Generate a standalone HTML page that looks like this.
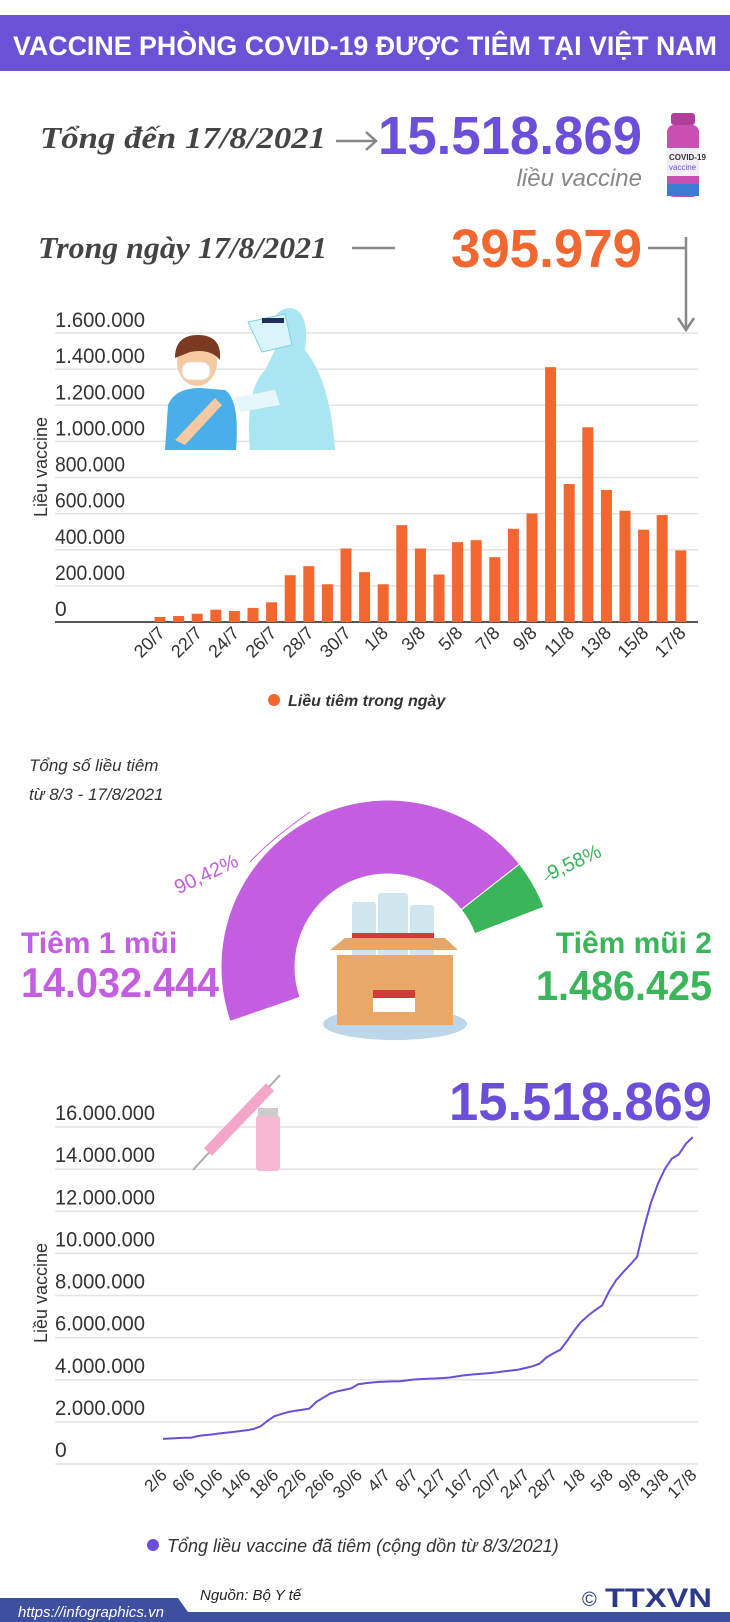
<!DOCTYPE html>
<html><head><meta charset="utf-8"><style>
html,body{margin:0;padding:0;background:#fff;}
svg{display:block;font-family:"Liberation Sans","DejaVu Sans",sans-serif;}
</style></head><body>
<svg id="root" width="730" height="1622" viewBox="0 0 730 1622" xmlns="http://www.w3.org/2000/svg">
<rect x="0" y="15" width="730" height="56" fill="#6a52d6"/>
<text x="13" y="55" font-size="27" font-weight="bold" fill="#fff" textLength="704" lengthAdjust="spacingAndGlyphs">VACCINE PHÒNG COVID-19 ĐƯỢC TIÊM TẠI VIỆT NAM</text>

<text x="40" y="148" font-family="Liberation Serif, serif" font-style="italic" font-weight="bold" font-size="31" fill="#444" textLength="286" lengthAdjust="spacingAndGlyphs">Tổng đến 17/8/2021</text>
<g stroke="#888" stroke-width="2.5" fill="none"><line x1="336" y1="141" x2="376" y2="141"/><polyline points="366,132 376,141 366,150"/></g>
<text x="378" y="154" font-size="54" font-weight="bold" fill="#6b4fd8" textLength="264" lengthAdjust="spacingAndGlyphs">15.518.869</text>
<text x="642" y="186" text-anchor="end" font-style="italic" font-size="24" fill="#888">liều vaccine</text>
<g>
<rect x="671" y="113" width="24" height="12" rx="3" fill="#b03d9a"/>
<rect x="667" y="125" width="32" height="72" rx="7" fill="#c94fb0"/>
<rect x="667" y="148" width="32" height="28" fill="#f2eef8"/>
<text x="669" y="160" font-size="8" font-weight="bold" fill="#333">COVID-19</text>
<text x="669" y="170" font-size="8" fill="#6b4fd8">vaccine</text>
<rect x="667" y="184" width="32" height="12" fill="#3a7bd5"/>
</g>
<text x="38" y="258" font-family="Liberation Serif, serif" font-style="italic" font-weight="bold" font-size="31" fill="#444" textLength="289" lengthAdjust="spacingAndGlyphs">Trong ngày 17/8/2021</text>
<line x1="352" y1="248" x2="395" y2="248" stroke="#888" stroke-width="2.5"/>
<text x="451" y="267" font-size="54" font-weight="bold" fill="#f2662f" textLength="191" lengthAdjust="spacingAndGlyphs">395.979</text>
<g stroke="#888" stroke-width="2.5" fill="none"><line x1="648" y1="248" x2="686" y2="248"/><line x1="686" y1="237" x2="686" y2="330"/><polyline points="678,318 686,330 694,318"/></g>

<g id="barGrid"></g>
<g>
<path d="M165,450 L168,405 Q175,388 200,388 L225,390 Q240,400 236,450 Z" fill="#4aaee8"/>
<ellipse cx="197" cy="362" rx="20" ry="24" fill="#f6c9a0"/>
<path d="M175,358 Q175,335 198,335 Q222,335 220,360 Q210,348 190,352 Z" fill="#7a3b22"/>
<rect x="182" y="362" width="28" height="18" rx="8" fill="#fff" stroke="#ddd"/>
<path d="M175,440 L215,398 L222,405 L185,445 Z" fill="#f6c9a0"/>
<path d="M250,450 Q245,390 265,370 L275,350 Q265,310 290,308 Q310,310 305,350 Q330,380 335,450 Z" fill="#a9e6f2"/>
<path d="M248,322 L285,314 L292,345 L262,352 Z" fill="#d9f5fb" stroke="#7fd0e4"/>
<rect x="262" y="318" width="22" height="5" fill="#1f2d5c"/>
<path d="M232,398 L275,390 L280,405 L240,412 Z" fill="#e6f7fb"/>
</g>

<g id="bars"></g>
<g id="barLabels"></g>
<text transform="translate(47,467) rotate(-90)" text-anchor="middle" font-size="18" fill="#333">Liều vaccine</text>
<g>
<circle cx="274" cy="700" r="6" fill="#f2662f"/>
<text x="288" y="706" font-size="16" font-style="italic" font-weight="bold" fill="#333">Liều tiêm trong ngày</text>
</g>

<text x="29" y="771" font-size="17" font-style="italic" fill="#333">Tổng số liều tiêm</text>
<text x="29" y="800" font-size="17" font-style="italic" fill="#333">từ 8/3 - 17/8/2021</text>
<g id="donut"></g>
<text x="21" y="953" font-size="30" font-weight="bold" fill="#c35ee0">Tiêm 1 mũi</text>
<text x="21" y="997" font-size="42" font-weight="bold" fill="#c35ee0" textLength="198" lengthAdjust="spacingAndGlyphs">14.032.444</text>
<text x="712" y="953" text-anchor="end" font-size="30" font-weight="bold" fill="#3bb55a">Tiêm mũi 2</text>
<text x="712" y="1000" text-anchor="end" font-size="42" font-weight="bold" fill="#3bb55a" textLength="176" lengthAdjust="spacingAndGlyphs">1.486.425</text>
<g>
<ellipse cx="395" cy="1024" rx="72" ry="16" fill="#bcd6ea"/>
<rect x="352" y="902" width="24" height="56" rx="3" fill="#cfe6ee"/>
<rect x="378" y="893" width="30" height="65" rx="3" fill="#cfe6ee"/>
<rect x="410" y="905" width="24" height="53" rx="3" fill="#cfe6ee"/>
<rect x="352" y="933" width="82" height="10" fill="#d43a3a"/>
<polygon points="330,950 345,938 445,938 458,950" fill="#e6a86a"/>
<rect x="337" y="955" width="116" height="70" fill="#eaa867"/>
<rect x="373" y="990" width="42" height="22" fill="#fff"/>
<rect x="373" y="990" width="42" height="8" fill="#d43a3a"/>
</g>

<text x="712" y="1120" text-anchor="end" font-size="54" font-weight="bold" fill="#6b4fd8" textLength="263" lengthAdjust="spacingAndGlyphs">15.518.869</text>
<g id="lineGrid"></g>
<g>
<line x1="193" y1="1170" x2="280" y2="1075" stroke="#aaa" stroke-width="2"/>
<line x1="208" y1="1152" x2="270" y2="1087" stroke="#f4a6c8" stroke-width="11"/>
<rect x="256" y="1115" width="24" height="56" rx="4" fill="#f6b9d4"/>
<rect x="258" y="1108" width="20" height="8" fill="#ccc"/>
</g>
<g id="lineMarks"></g>
<g id="lineLabels"></g>
<text transform="translate(47,1293) rotate(-90)" text-anchor="middle" font-size="18" fill="#333">Liều vaccine</text>
<g>
<circle cx="153" cy="1545" r="6" fill="#6b4fd8"/>
<text x="167" y="1552" font-size="18" font-style="italic" fill="#333">Tổng liều vaccine đã tiêm (cộng dồn từ 8/3/2021)</text>
</g>

<text x="200" y="1600" font-size="15" font-style="italic" fill="#222">Nguồn: Bộ Y tế</text>
<polygon points="0,1598 178,1598 188,1612 730,1612 730,1622 0,1622" fill="#3e4fa0"/>
<text x="18" y="1617" font-size="15" font-style="italic" fill="#fff">https://infographics.vn</text>
<g>
<text x="582" y="1606" font-size="20" fill="#2d3a8c">©</text>
<text x="605" y="1607" font-size="27" font-weight="bold" fill="#2d3a8c" textLength="107" lengthAdjust="spacingAndGlyphs">TTXVN</text>
</g>
</svg>
<script>
const NS="http://www.w3.org/2000/svg";
const barCategories=["20/7","21/7","22/7","23/7","24/7","25/7","26/7","27/7","28/7","29/7","30/7","31/7","1/8","2/8","3/8","4/8","5/8","6/8","7/8","8/8","9/8","10/8","11/8","12/8","13/8","14/8","15/8","16/8","17/8"];
const barValues=[28000,33000,46000,68000,61000,78000,109000,259000,309000,209000,407000,276000,209000,536000,407000,263000,442000,453000,359000,516000,601000,1411000,764000,1078000,731000,616000,511000,592000,395979];
const barTicks=[0,200000,400000,600000,800000,1000000,1200000,1400000,1600000];
const barTickLabels=["0","200.000","400.000","600.000","800.000","1.000.000","1.200.000","1.400.000","1.600.000"];

const lineCategories=[];
(function(){const m=[[6,2,30],[7,1,31],[8,1,17]];for(const [mo,a,b] of m)for(let d=a;d<=b;d++)lineCategories.push(d+"/"+mo);})();
const lineValues=[1.19,1.21,1.23,1.25,1.25,1.33,1.37,1.40,1.45,1.48,1.52,1.56,1.60,1.66,1.79,2.05,2.27,2.38,2.47,2.53,2.58,2.63,2.95,3.15,3.35,3.45,3.52,3.59,3.79,3.83,3.87,3.90,3.91,3.92,3.93,3.97,4.01,4.03,4.05,4.06,4.08,4.10,4.15,4.20,4.24,4.27,4.29,4.32,4.36,4.40,4.44,4.48,4.56,4.64,4.76,5.05,5.25,5.42,5.85,6.34,6.75,7.05,7.30,7.53,8.20,8.72,9.10,9.45,9.83,11.2,12.4,13.3,14.0,14.5,14.7,15.2,15.52];
const lineTicks=[0,2,4,6,8,10,12,14,16];
const lineTickLabels=["0","2.000.000","4.000.000","6.000.000","8.000.000","10.000.000","12.000.000","14.000.000","16.000.000"];

const donutLabels=["Tiêm 1 mũi","Tiêm mũi 2"];
const donutValues=[14032444,1486425];
const donutPercentLabels=["90,42%","9,58%"];

function mk(tag,attrs,parent){const e=document.createElementNS(NS,tag);for(const k in attrs)e.setAttribute(k,attrs[k]);parent.appendChild(e);return e;}
function tickText(parent,x,y,label){
  const tx=mk('text',{x:x,y:y,'font-size':21,fill:'#333'},parent);
  if(label.length>1){tx.setAttribute('textLength',(label.length*10).toFixed(0));tx.setAttribute('lengthAdjust','spacingAndGlyphs');}
  tx.textContent=label;
  return tx;
}

const xBar=i=>160+i*18.6;
const yBar=v=>622-v/1600000*289;
const bg=document.getElementById('barGrid');
barTicks.forEach((t,i)=>{
  const l=mk('line',{x1:55,x2:698,y1:yBar(t),y2:yBar(t),stroke:t===0?'#555':'#e3e3e3','stroke-width':t===0?2:1.5},bg);
  
  
  const tx=tickText(bg,55,yBar(t)-6,barTickLabels[i]);
  
  
});
const bars=document.getElementById('bars');
barValues.forEach((v,i)=>{
  const r=mk('rect',{x:xBar(i)-5.5,y:yBar(v),width:11,height:yBar(0)-yBar(v),fill:'#f2662f'},bars);
  
  
});
const bl=document.getElementById('barLabels');
barCategories.forEach((c,i)=>{
  if(i%2)return;
  const x=xBar(i)+6,y=634;
  const t=mk('text',{x:x,y:y,'text-anchor':'end','font-size':18,fill:'#333',transform:`rotate(-45 ${x} ${y})`},bl);
  t.textContent=c;
  
  
});

const cx=388,cy=967,ro=167,ri=93,start=199,span=178;
const total=donutValues.reduce((a,b)=>a+b,0);
const colors=['#c35ee0','#3bb55a'];
const dg=document.getElementById('donut');
const pt=(r,a)=>[cx+r*Math.cos(a*Math.PI/180),cy-r*Math.sin(a*Math.PI/180)];
let a0=start;
donutValues.forEach((v,i)=>{
  const a1=a0-v/total*span;
  const large=(a0-a1)>180?1:0;
  const p1=pt(ro,a0),p2=pt(ro,a1),p3=pt(ri,a1),p4=pt(ri,a0);
  const p=mk('path',{d:`M${p1} A${ro},${ro} 0 ${large} 1 ${p2} L${p3} A${ri},${ri} 0 ${large} 0 ${p4} Z`,fill:colors[i],stroke:'#fff','stroke-width':1},dg);
  
  
  a0=a1;
});
[[209,880,colors[0],0],[577,868,colors[1],1]].forEach(([x,y,c,i])=>{
  const t=mk('text',{x:x,y:y,'text-anchor':'middle','font-size':20,fill:c,transform:`rotate(-25 ${x} ${y})`},dg);
  t.textContent=donutPercentLabels[i];
  
  
});
mk('path',{d:'M250,862 Q270,840 310,812',stroke:colors[0],'stroke-width':1,fill:'none'},dg);
mk('line',{x1:545,y1:880,x2:553,y2:872,stroke:colors[1],'stroke-width':1},dg);

const xL=i=>163+i*6.97;
const yL=v=>1464-v/16*337;
const lg=document.getElementById('lineGrid');
lineTicks.forEach((t,i)=>{
  const l=mk('line',{x1:55,x2:698,y1:yL(t),y2:yL(t),stroke:'#e3e3e3','stroke-width':1.5},lg);
  
  
  const tx=tickText(lg,55,yL(t)-7,lineTickLabels[i]);
  
  
});
const lm=document.getElementById('lineMarks');
const pl=mk('polyline',{points:lineValues.map((v,i)=>xL(i).toFixed(1)+','+yL(v).toFixed(1)).join(' '),fill:'none',stroke:'#6b4fd8','stroke-width':2},lm);


const ll=document.getElementById('lineLabels');
lineCategories.forEach((c,i)=>{
  if(i%4)return;
  const x=xL(i)+5,y=1476;
  const t=mk('text',{x:x,y:y,'text-anchor':'end','font-size':17,fill:'#333',transform:`rotate(-45 ${x} ${y})`},ll);
  t.textContent=c;
  
  
});
</script>
</body></html>
